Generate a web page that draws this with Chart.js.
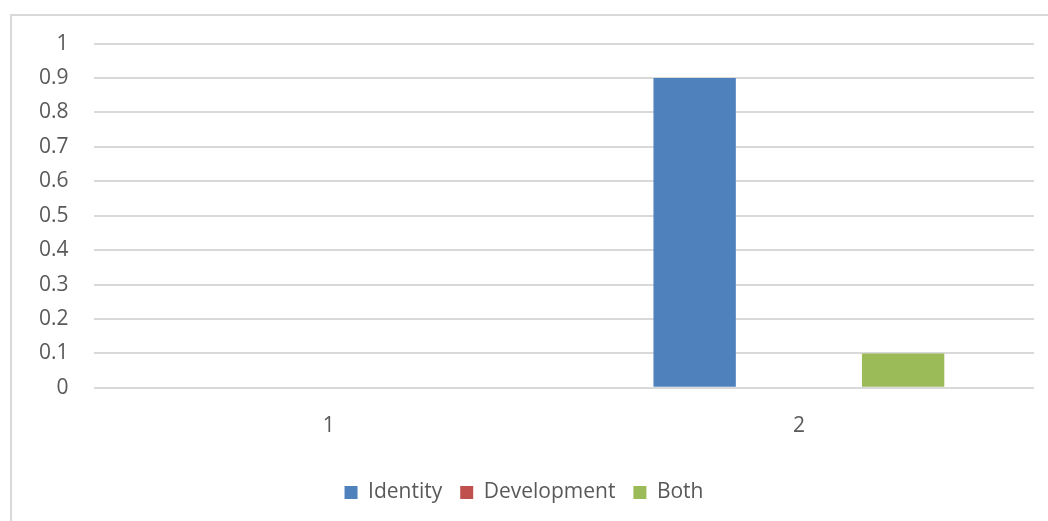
<!DOCTYPE html>
<html>
<head>
<meta charset="utf-8">
<script src="https://cdn.jsdelivr.net/npm/chart.js@4"></script>
<style>
  html, body { margin: 0; padding: 0; background: #fff; overflow: hidden; }
  .frame {
    position: absolute; left: 10px; top: 14px;
    width: 1040px; height: 520px;
    border: 2px solid #d9d9d9; box-sizing: border-box;
  }
  .frame canvas { position: absolute; left: 0; top: -10px; }
</style>
</head>
<body>
<div class="frame"><canvas id="barChart" width="1036" height="515"></canvas></div>
<script>
const categories = ['1', '2'];
const identityValues = [0, 0.9];
const developmentValues = [0, 0];
const bothValues = [0, 0.1];
const yTicks = [0, 0.1, 0.2, 0.3, 0.4, 0.5, 0.6, 0.7, 0.8, 0.9, 1];

const textColor = '#595959';
const gridColor = '#d9d9d9';
const font = { family: "'Open Sans', 'Liberation Sans', sans-serif", size: 21 };

function makeDataset(label, values, color) {
  return {
    label: label,
    data: values,
    backgroundColor: color,
    borderWidth: 0,
    categoryPercentage: 0.665,
    barPercentage: 0.79,
  };
}

const ctx = document.getElementById('barChart').getContext('2d');
new Chart(ctx, {
  type: 'bar',
  data: {
    labels: categories,
    datasets: [
      makeDataset('Identity', identityValues, '#4F81BD'),
      makeDataset('Development', developmentValues, '#C0504D'),
      makeDataset('Both', bothValues, '#9BBB59'),
    ],
  },
  options: {
    responsive: false,
    animation: false,
    layout: { padding: { left: 2, right: 14, top: 0, bottom: 8 } },
    scales: {
      x: {
        grid: { display: false },
        border: { display: false },
        ticks: { color: textColor, font: font, padding: 18 },
        afterFit: (axis) => { axis.height += 7; },
      },
      y: {
        min: 0,
        max: 1,
        afterBuildTicks: (axis) => {
          axis.ticks = yTicks.map((v) => ({ value: v }));
        },
        grid: { color: gridColor, lineWidth: 2, drawTicks: false },
        border: { display: false },
        ticks: {
          color: textColor,
          font: font,
          padding: 25,
          callback: (value) => String(Math.round(value * 10) / 10),
        },
      },
    },
    plugins: {
      legend: {
        display: true,
        position: 'bottom',
        labels: {
          color: textColor,
          font: font,
          boxWidth: 13,
          boxHeight: 13,
          padding: 18,
        },
      },
      tooltip: { enabled: false },
    },
  },
});
</script>
</body>
</html>
